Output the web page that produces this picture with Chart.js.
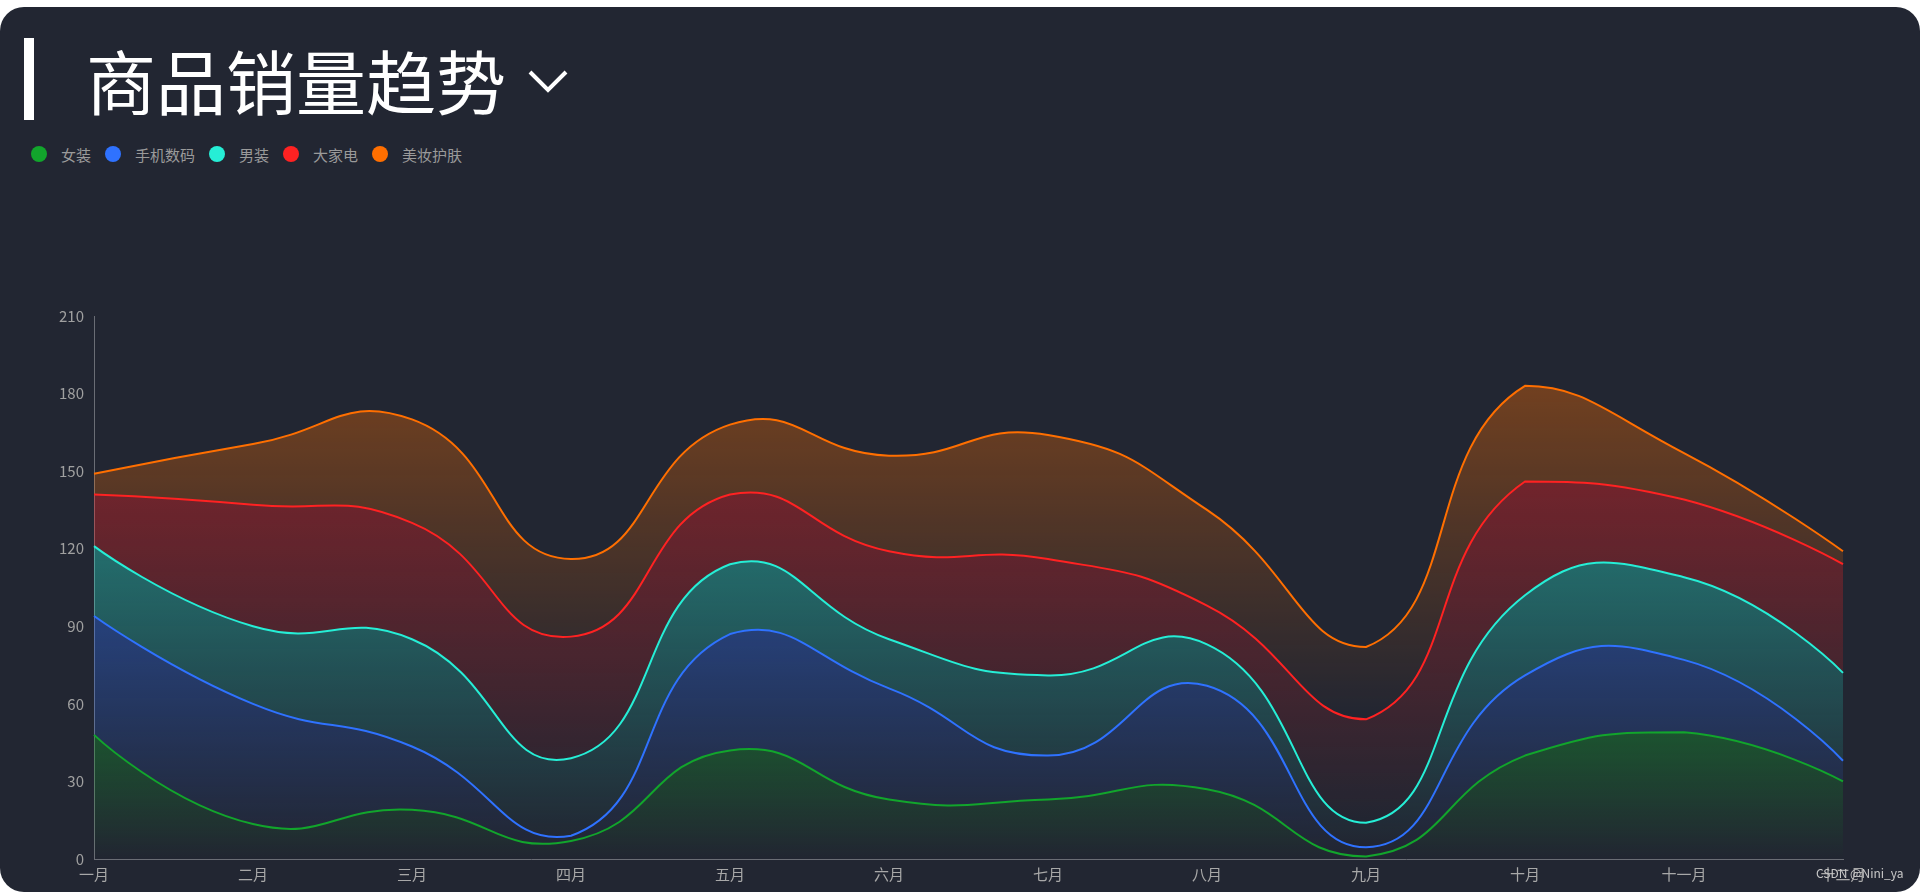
<!DOCTYPE html>
<html><head><meta charset="utf-8">
<script src="https://cdn.jsdelivr.net/npm/chart.js@4.4.0/dist/chart.umd.min.js"></script>
<style>
html,body{margin:0;padding:0;background:#fff;width:1920px;height:892px;overflow:hidden;font-family:'Noto Sans CJK SC',sans-serif;}
#panel{position:absolute;left:0;top:7px;width:1920px;height:885px;background:#222632;border-radius:24px;}
#bar{position:absolute;left:24px;top:38px;width:10px;height:82px;background:#fff;}
#title{position:absolute;left:86px;top:35px;font-size:70px;line-height:90px;color:#fff;white-space:nowrap;}
#chev{position:absolute;left:526px;top:66px;}
#legend{position:absolute;left:31px;top:144px;height:20px;display:flex;align-items:center;}
.li{display:flex;align-items:center;margin-right:14px;}
.dot{width:16px;height:16px;border-radius:50%;margin-right:14px;}
.lt{font-size:15px;color:#9a9a9a;}
#wrap{position:absolute;left:0;top:290px;width:1920px;height:602px;}
#wm{position:absolute;left:1816px;top:864px;font-size:12px;color:#c8c8c8;white-space:nowrap;}
</style></head>
<body>
<div id="panel"></div>
<div id="bar"></div>
<div id="title">商品销量趋势</div>
<svg id="chev" width="46" height="30"><polyline points="4,6 22,24 40,6" fill="none" stroke="#fff" stroke-width="4"/></svg>
<div id="legend"></div>
<div id="wrap"><canvas id="c"></canvas></div>
<div id="wm">CSDN @Nini_ya</div>
<script>
const months = ['一月','二月','三月','四月','五月','六月','七月','八月','九月','十月','十一月','十二月'];
const seriesNames = ['女装','手机数码','男装','大家电','美妆护肤'];
const lineColors = ['#12a52c','#2f72ff','#26eed6','#ff2222','#ff6f00'];
const womens = [48,13.5,19,7,42,23,23,27,1,40,49,30];
const digital = [46,46.5,24.5,2,45,43,17,40,3.5,31,28,8];
const mens = [27,30,41.5,30,27,19,31,16,9.5,31,32,34];
const appliances = [20,47,45,47,27,34,45,15,40,44,30,42];
const beauty = [8,23.5,40,30,27,37,48,37,28,37,18,5];
const yTicks = [0,30,60,90,120,150,180,210];

const seriesData = [womens, digital, mens, appliances, beauty];

// legend
const lg = document.getElementById('legend');
seriesNames.forEach((n,i)=>{
  const d=document.createElement('div');d.className='li';
  d.innerHTML='<span class="dot" style="background:'+lineColors[i]+'"></span><span class="lt">'+n+'</span>';
  lg.appendChild(d);
});

function hexToRgb(h){const v=parseInt(h.slice(1),16);return [(v>>16)&255,(v>>8)&255,v&255];}
const cum = [];
seriesData.forEach((arr,i)=>{cum.push(arr.map((v,j)=>v+(i?cum[i-1][j]:0)));});

function areaFill(i){
  return (ctx)=>{
    const chart=ctx.chart; const ca=chart.chartArea;
    if(!ca) return 'transparent';
    const ys=chart.scales.y;
    const top=Math.max(...cum[i]);
    const bot=i?Math.min(...cum[i-1]):0;
    const y1=ys.getPixelForValue(top), y2=ys.getPixelForValue(bot);
    const g=chart.ctx.createLinearGradient(0,y1,0,y2);
    const [r,gg,b]=hexToRgb(lineColors[i]);
    g.addColorStop(0,'rgba('+r+','+gg+','+b+',0.36)');
    g.addColorStop(1,'rgba('+r+','+gg+','+b+',0.0)');
    return g;
  };
}

// Bezier control points in the style of a bbox-constrained smooth line
const smoothPlugin = {
  id:'bboxSmooth',
  afterDatasetsUpdate(chart){
    const smooth=0.5;
    chart.getSortedVisibleDatasetMetas().forEach(meta=>{
      const line=meta.dataset, pts=meta.data, n=pts.length;
      let minX=Infinity,maxX=-Infinity,minY=Infinity,maxY=-Infinity;
      pts.forEach(p=>{minX=Math.min(minX,p.x);maxX=Math.max(maxX,p.x);minY=Math.min(minY,p.y);maxY=Math.max(maxY,p.y);});
      const cx=v=>Math.min(Math.max(v,minX),maxX), cy=v=>Math.min(Math.max(v,minY),maxY);
      for(let i=0;i<n;i++){
        const p=pts[i];
        if(i===0||i===n-1){p.cp1x=p.x;p.cp1y=p.y;p.cp2x=p.x;p.cp2y=p.y;continue;}
        const prev=pts[i-1], next=pts[i+1];
        const vx=next.x-prev.x, vy=next.y-prev.y;
        const d0=Math.hypot(p.x-prev.x,p.y-prev.y), d1=Math.hypot(next.x-p.x,next.y-p.y);
        const s=d0+d1; const r0=s?d0/s:0.5, r1=s?d1/s:0.5;
        p.cp1x=cx(p.x-vx*smooth*r0); p.cp1y=cy(p.y-vy*smooth*r0);
        p.cp2x=cx(p.x+vx*smooth*r1); p.cp2y=cy(p.y+vy*smooth*r1);
      }
      if(line) line._pointsUpdated=true;
    });
  }
};

Chart.defaults.font.family="'Noto Sans CJK SC', sans-serif";
new Chart(document.getElementById('c'),{
  type:'line',
  data:{
    labels:months,
    datasets:seriesData.map((arr,i)=>({
      label:seriesNames[i],
      data:arr,
      borderColor:lineColors[i],
      borderWidth:2,
      backgroundColor:areaFill(i),
      fill:i?'-1':'origin',
      tension:0.4,
      pointRadius:0,
      pointHoverRadius:0
    }))
  },
  plugins:[smoothPlugin],
  options:{
    responsive:true,maintainAspectRatio:false,animation:false,
    layout:{padding:{left:0,right:77,top:26,bottom:0}},
    plugins:{legend:{display:false},tooltip:{enabled:false}},
    scales:{
      x:{
        offset:false,
        grid:{display:false,drawTicks:false},
        border:{display:true,color:'#6a6d75',width:1},
        ticks:{autoSkip:false,maxRotation:0,padding:6,color:'#a8a8a8',font:{size:15}},
        afterFit:(s)=>{s.height=33;}
      },
      y:{
        stacked:true,min:0,max:210,
        grid:{display:false,drawTicks:false},
        border:{display:true,color:'#6a6d75',width:1},
        afterBuildTicks:(s)=>{s.ticks=yTicks.map(v=>({value:v}));},
        ticks:{padding:10,color:'#a0a0a0',font:{size:15}},
        afterFit:(s)=>{s.width=94;}
      }
    }
  }
});
</script>
</body></html>
